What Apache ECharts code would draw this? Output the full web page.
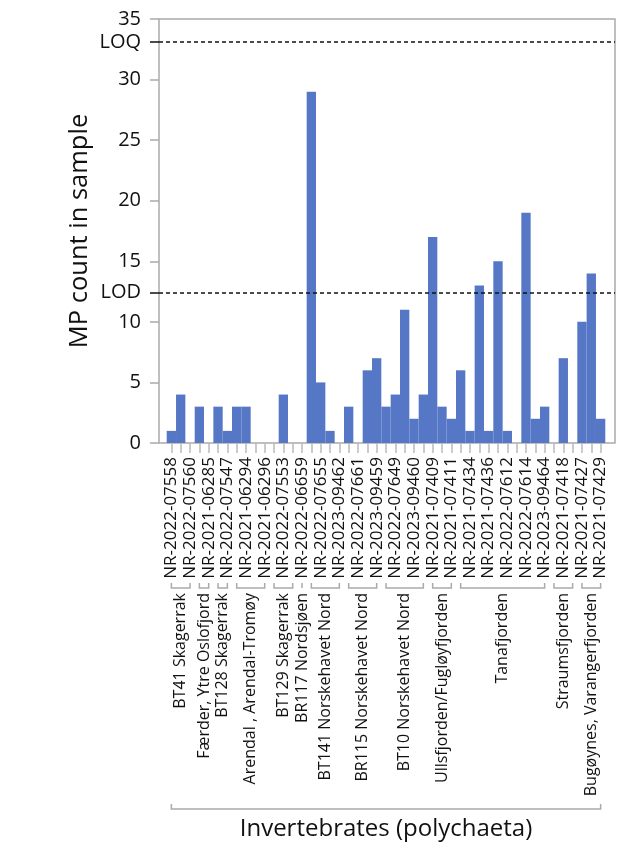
<!DOCTYPE html>
<html>
<head>
<meta charset="utf-8">
<script src="https://cdn.jsdelivr.net/npm/echarts@6/dist/echarts.min.js"></script>
<style>
  html, body { margin: 0; padding: 0; background: #fff; }
  #chart { width: 621px; height: 846px; }
</style>
</head>
<body>
<div id="chart"></div>
<script>
// Sample IDs along the x axis; only every other ID is printed on the axis,
// the unprinted positions are left blank.
const sampleIds = [
  'NR-2022-07558', '', 'NR-2022-07560', '', 'NR-2021-06285', '', 'NR-2022-07547', '',
  'NR-2021-06294', '', 'NR-2021-06296', '', 'NR-2022-07553', '', 'NR-2022-06659', '',
  'NR-2022-07655', '', 'NR-2023-09462', '', 'NR-2022-07661', '', 'NR-2023-09459', '',
  'NR-2022-07649', '', 'NR-2023-09460', '', 'NR-2021-07409', '', 'NR-2021-07411', '',
  'NR-2021-07434', '', 'NR-2021-07436', '', 'NR-2022-07612', '', 'NR-2022-07614', '',
  'NR-2023-09464', '', 'NR-2021-07418', '', 'NR-2021-07427', '', 'NR-2021-07429'
];

// Microplastic particle count per sample
const mpCounts = [
  1, 4, 0, 3, 0, 3, 1, 3, 3, 0,
  0, 0, 4, 0, 0, 29, 5, 1, 0, 3,
  0, 6, 7, 3, 4, 11, 2, 4, 17, 3,
  2, 6, 1, 13, 1, 15, 1, 0, 19, 2,
  3, 0, 7, 0, 10, 14, 2
];

// Stations (consecutive samples) and how many samples each one has
const stationNames = [
  'BT41 Skagerrak', 'Færder, Ytre Oslofjord', 'BT128 Skagerrak', 'Arendal , Arendal-Tromøy',
  'BT129 Skagerrak', 'BR117 Nordsjøen', 'BT141 Norskehavet Nord', 'BR115 Norskehavet Nord',
  'BT10 Norskehavet Nord', 'Ullsfjorden/Fugløyfjorden', 'Tanafjorden', 'Straumsfjorden',
  'Bugøynes, Varangerfjorden'
];
const stationSizes = [3, 2, 2, 4, 3, 1, 4, 4, 5, 3, 10, 3, 3];

const matrixName = 'Invertebrates (polychaeta)';

// Detection / quantification limits
const limitNames = ['LOD', 'LOQ'];
const limitValues = [12.4, 33.1];

const yTicks = [0, 5, 10, 15, 20, 25, 30, 35];

const FONT = '"Open Sans", "Noto Sans", sans-serif';
const TEXT = '#111';
const AXIS_GREY = '#aaa';

// Bracket rows: [first sample, last sample, level]
const bracketRows = [];
const bracketLabels = [];
let cursor = 0;
stationSizes.forEach((n, i) => {
  bracketRows.push([cursor, cursor + n - 1, 0]);
  bracketLabels.push(stationNames[i]);
  cursor += n;
});
bracketRows.push([0, mpCounts.length - 1, 1]);
bracketLabels.push(matrixName);

const chart = echarts.init(document.getElementById('chart'), null, { renderer: 'canvas' });

chart.setOption({
  animation: false,
  grid: [
    { left: 159, right: 6, top: 19, bottom: 403, show: true,
      borderColor: AXIS_GREY, borderWidth: 1.5, backgroundColor: 'transparent' },
    { left: 166.7, right: 15.7, top: 19, bottom: 403 }
  ],
  xAxis: [
    { gridIndex: 0, type: 'value', min: 0, max: 1, show: false },
    {
      gridIndex: 1, type: 'category', data: sampleIds, boundaryGap: true,
      axisLine: { show: false },
      axisTick: { show: true, interval: 0, alignWithLabel: true, length: 10,
                  lineStyle: { color: '#bbb', width: 1.5 } },
      axisLabel: { interval: 1, rotate: 90, margin: 14, fontSize: 17,
                   fontFamily: FONT, color: TEXT },
      splitLine: { show: false }
    }
  ],
  yAxis: [
    {
      gridIndex: 0, type: 'value', position: 'left', min: yTicks[0],
      max: yTicks[yTicks.length - 1], interval: 5,
      axisLine: { show: false },
      axisTick: { show: true, length: 9, lineStyle: { color: AXIS_GREY, width: 1.5 } },
      axisLabel: { margin: 18, fontSize: 20, fontFamily: FONT, color: TEXT },
      splitLine: { show: false },
      name: 'MP count in sample', nameLocation: 'middle', nameGap: 66,
      nameTextStyle: { fontSize: 25.5, fontFamily: FONT, color: TEXT }
    },
    {
      gridIndex: 0, type: 'value', position: 'left', min: yTicks[0],
      max: yTicks[yTicks.length - 1],
      axisLine: { show: false },
      axisTick: { show: true, customValues: limitValues, length: 9,
                  lineStyle: { color: TEXT, width: 1.5 } },
      axisLabel: { customValues: limitValues, margin: 18, fontSize: 20,
                   fontFamily: FONT, color: TEXT,
                   formatter: v => limitNames[limitValues.indexOf(v)] || '' },
      splitLine: { show: false }
    },
    { gridIndex: 1, type: 'value', min: yTicks[0], max: yTicks[yTicks.length - 1], show: false }
  ],
  series: [
    {
      type: 'bar', xAxisIndex: 1, yAxisIndex: 2, data: mpCounts,
      barCategoryGap: 0, itemStyle: { color: '#5677c6' }, silent: true
    },
    {
      type: 'line', xAxisIndex: 0, yAxisIndex: 0, data: [],
      markLine: {
        silent: true, symbol: 'none', label: { show: false },
        lineStyle: { type: [4, 3], color: TEXT, width: 1.5 },
        data: limitValues.map(v => ({ yAxis: v }))
      }
    },
    {
      type: 'custom', xAxisIndex: 1, yAxisIndex: 2, clip: false, silent: true,
      encode: { x: [0, 1], y: 2 },
      data: bracketRows,
      renderItem(params, api) {
        const level = api.value(2);
        const a = api.coord([api.value(0), 0]);
        const b = api.coord([api.value(1), 0]);
        const label = bracketLabels[params.dataIndex];
        const lineY = a[1] + (level === 0 ? 145 : 366);
        const bracket = {
          type: 'polyline',
          shape: { points: [[a[0], lineY - 5], [a[0], lineY], [b[0], lineY], [b[0], lineY - 5]] },
          style: { stroke: AXIS_GREY, lineWidth: 1.5, fill: null }
        };
        const cx = (a[0] + b[0]) / 2;
        const text = level === 0
          ? { type: 'text', x: cx, y: lineY + 5, rotation: Math.PI / 2,
              style: { text: label, fontSize: 16, fontFamily: FONT, fill: TEXT,
                       align: 'right', verticalAlign: 'middle' } }
          : { type: 'text', x: cx, y: lineY + 20,
              style: { text: label, fontSize: 24, fontFamily: FONT, fill: TEXT,
                       align: 'center', verticalAlign: 'middle' } };
        return { type: 'group', children: [bracket, text] };
      }
    }
  ]
});
</script>
</body>
</html>
